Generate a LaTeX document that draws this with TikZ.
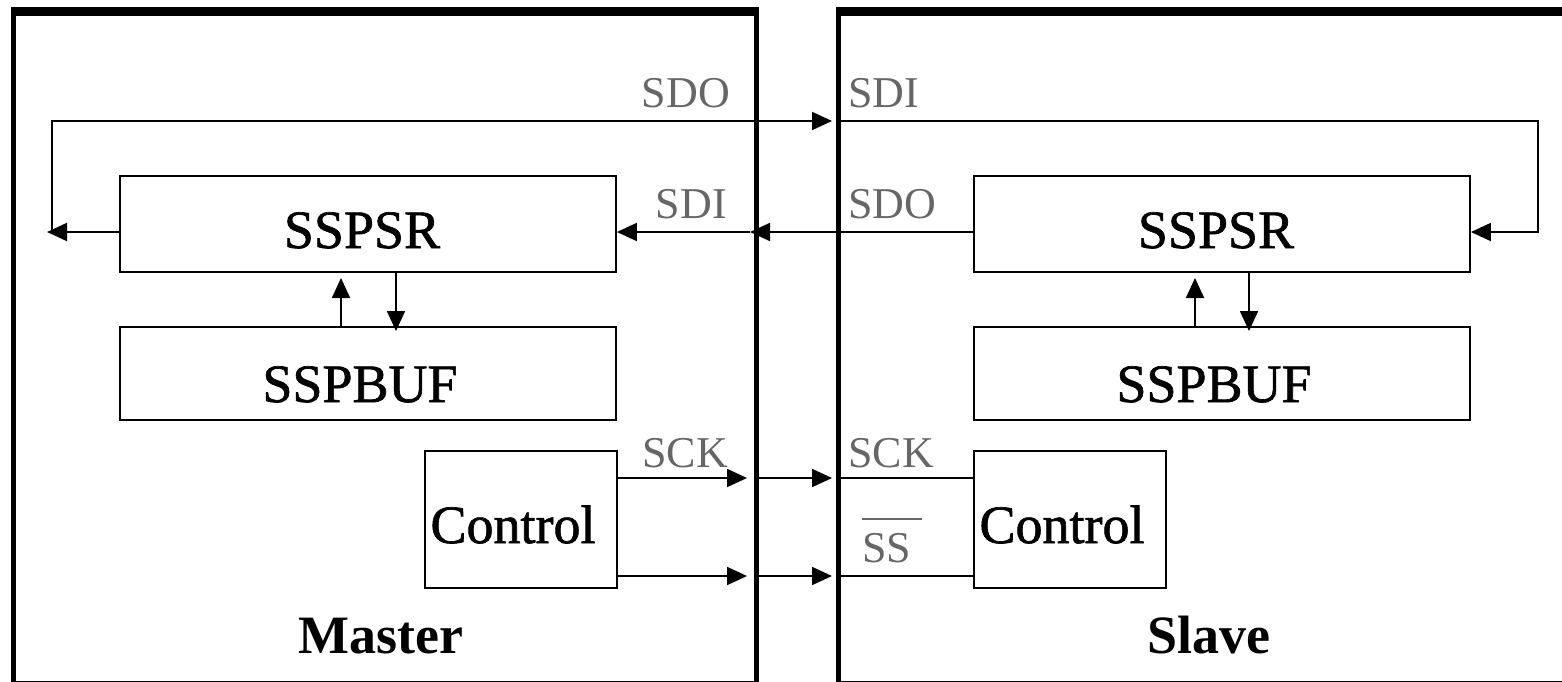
\documentclass[tikz,border=0pt]{standalone}
\usepackage{fontspec}
\setmainfont{Liberation Serif}
\newfontfamily\heavyserif[FakeBold=1.2]{Liberation Serif}
\usetikzlibrary{arrows.meta}
\definecolor{lblgray}{rgb}{0.4,0.4,0.4}
\tikzset{
  frame/.style={draw, line width=5pt, inner sep=0pt, anchor=north west},
  blk/.style={draw, line width=1.8pt, inner sep=0pt},
  wire/.style={line width=1.8pt},
  arr/.style={wire, -{Triangle[length=20pt,width=18pt]}},
  lbl/.style={font=\fontsize{44}{48}\selectfont, text=lblgray, inner sep=0pt},
  big/.style={font=\heavyserif\fontsize{54}{58}\selectfont, inner sep=0pt, anchor=base},
  bigb/.style={font=\bfseries\fontsize{54}{58}\selectfont, inner sep=0pt, anchor=base},
}
\begin{document}
\begin{tikzpicture}[x=1pt,y=-1pt]
\useasboundingbox (0,0) rectangle (1562,682);
\clip (0,0) rectangle (1562,682);
\fill[white] (0,0) rectangle (1562,682);
% frames
\node[frame, minimum width=743pt, minimum height=670pt] (master) at (11,11) {};
\draw[line width=8pt] (master.north west) -- (master.north east);
\node[frame, minimum width=800pt, minimum height=670pt] (slave) at (836,11) {};
\draw[line width=8pt] (slave.north west) -- (slave.north east);
% master blocks
\node[blk, minimum width=496pt, minimum height=96pt] (msr) at (368,224) {};
\node[blk, minimum width=496pt, minimum height=93pt] (msb) at (368,373.5) {};
\node[blk, minimum width=192pt, minimum height=137pt] (mc) at (521,519.5) {};
\node[big] (msrt) at (362,248) {SSPSR};
\node[big] (msbt) at (360,402) {SSPBUF};
\node[big] (mct) at (513,543) {Control};
\node[bigb] (mlbl) at (381,653) {Master};
% slave blocks
\node[blk, minimum width=496pt, minimum height=96pt] (ssr) at (1222,224) {};
\node[blk, minimum width=496pt, minimum height=93pt] (ssb) at (1222,373.5) {};
\node[blk, minimum width=192pt, minimum height=137pt] (sc) at (1070,519.5) {};
\node[big] (ssrt) at (1216,248) {SSPSR};
\node[big] (ssbt) at (1214,402) {SSPBUF};
\node[big] (sct) at (1062,543) {Control};
\node[bigb] (slbl) at (1209,653) {Slave};
% labels
\node[lbl, anchor=base east] (l1) at (730,108) {SDO};
\node[lbl, anchor=base west] (l2) at (848,108) {SDI};
\node[lbl, anchor=base east] (l3) at (727,218) {SDI};
\node[lbl, anchor=base west] (l4) at (848,218) {SDO};
\node[lbl, anchor=base west] (l5) at (642,467) {SCK};
\node[lbl, anchor=base west] (l6) at (848,467) {SCK};
\node[lbl, anchor=base west] (l7) at (862,562) {\vbox{\color{lblgray}\hrule width 60pt height 1.5pt\kern 13pt\hbox{SS}}};
% coordinates
\coordinate (larr) at (47,232);
\coordinate (lturn) at (52,232);
\coordinate (ltop) at (52,121);
\coordinate (sdiin) at (832,121);
\coordinate (sdi2) at (838,121);
\coordinate (rtop) at (1538,121);
\coordinate (rturn) at (1538,232);
\coordinate (mbin) at (750,232);
\coordinate (mup0) at (341,327);
\coordinate (mup1) at (341,278);
\coordinate (mdn0) at (396,272);
\coordinate (mdn1) at (396,331);
\coordinate (sup0) at (1195,327);
\coordinate (sup1) at (1195,278);
\coordinate (sdn0) at (1249,272);
\coordinate (sdn1) at (1249,331);
\coordinate (ck1) at (747,478);
\coordinate (ck2) at (757,478);
\coordinate (ck3) at (832,478);
\coordinate (ck4) at (838,478);
\coordinate (ss1) at (747,576);
\coordinate (ss2) at (757,576);
\coordinate (ss3) at (832,576);
\coordinate (ss4) at (838,576);
% SDO master -> SDI slave
\draw[arr] (msr.west |- larr) -- (larr);
\draw[arr] (lturn) -- (ltop) -- (sdiin);
\draw[arr] (sdi2) -- (rtop) -- (rturn) -- (ssr.east |- rturn);
% SDO slave -> SDI master
\draw[arr] (ssr.west |- mbin) -- (mbin);
\draw[arr] (mbin) -- (msr.east |- mbin);
% SSPSR <-> SSPBUF
\draw[arr] (mup0) -- (mup1);
\draw[arr] (mdn0) -- (mdn1);
\draw[arr] (sup0) -- (sup1);
\draw[arr] (sdn0) -- (sdn1);
% SCK
\draw[arr] (mc.east |- ck1) -- (ck1);
\draw[arr] (ck2) -- (ck3);
\draw[wire] (ck4) -- (sc.west |- ck4);
% SS
\draw[arr] (mc.east |- ss1) -- (ss1);
\draw[arr] (ss2) -- (ss3);
\draw[wire] (ss4) -- (sc.west |- ss4);
\end{tikzpicture}
\end{document}
